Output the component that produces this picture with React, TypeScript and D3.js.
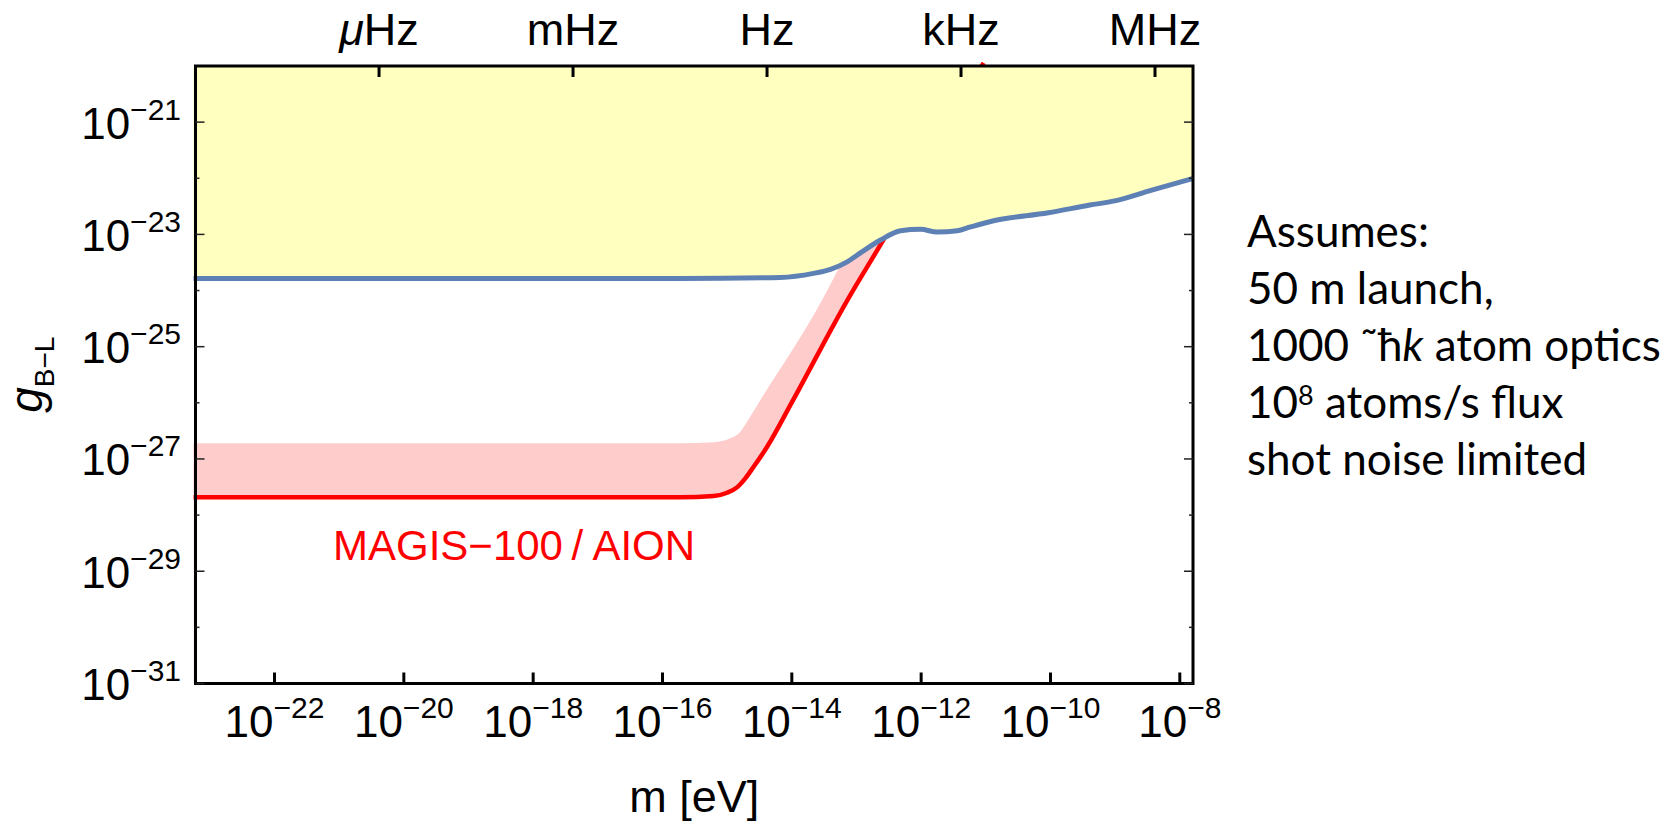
import React from "react";
import * as d3 from "d3";

const WIDTH = 1673;
const HEIGHT = 823;

// Axis ticks
const massTicks = [1e-22, 1e-20, 1e-18, 1e-16, 1e-14, 1e-12, 1e-10, 1e-8];
const couplingLabelled = [1e-21, 1e-23, 1e-25, 1e-27, 1e-29, 1e-31];
const couplingMinor = [1e-22, 1e-24, 1e-26, 1e-28, 1e-30];

// Top axis: Compton frequency f = m c^2 / h
const freqLabels = ["μHz", "mHz", "Hz", "kHz", "MHz"];
const freqValuesHz = [1e-6, 1e-3, 1, 1e3, 1e6];
const PLANCK_EV_S = 4.135667696e-15;

// Existing constraints (blue boundary, excluded region shaded above)
const boundMass = [
  5.6e-24, 1.89e-16, 6.67e-15, 2.16e-14, 3.96e-14, 7.18e-14, 1.28e-13, 2.36e-13,
  4.8e-13, 9.79e-13, 1.78e-12, 3.62e-12, 5.82e-12, 1.32e-11, 9.23e-11, 4.05e-10,
  9.86e-10, 3.69e-9, 1.62e-8,
];
const boundCoupling = [
  1.64e-24, 1.64e-24, 1.71e-24, 2.02e-24, 2.38e-24, 3.25e-24, 5.1e-24, 7.93e-24,
  1.16e-23, 1.23e-23, 1.1e-23, 1.16e-23, 1.36e-23, 1.75e-23, 2.43e-23, 3.33e-23,
  3.96e-23, 6.15e-23, 9.93e-23,
];

// MAGIS-100 / AION projected sensitivity (red)
const magisMass = [
  5.6e-24, 1.89e-16, 6.18e-16, 9.96e-16, 1.42e-15, 1.91e-15, 2.57e-15, 4.15e-15,
  1.01e-14, 7.1e-14, 2.69e-13, 9.25e-12,
];
const magisCoupling = [
  2.07e-28, 2.07e-28, 2.18e-28, 2.5e-28, 3.12e-28, 4.52e-28, 7.26e-28, 1.65e-27,
  1.04e-26, 6.5e-25, 8.49e-24, 1.14e-20,
];

// Upper edge of the projected sensitivity band (pink)
const bandMass = [
  5.6e-24, 1.89e-16, 6.18e-16, 1.12e-15, 1.6e-15, 2.03e-15, 3.27e-15, 2.94e-14,
  5.65e-14, 1.24e-13, 5.0e-13,
];
const bandCoupling = [
  1.9e-27, 1.9e-27, 1.98e-27, 2.33e-27, 3.05e-27, 4.6e-27, 1.12e-26, 6.76e-25,
  2.84e-24, 1.59e-23, 1.0e-21,
];

const assumptions = ["Assumes:", "50 m launch,", "shot noise limited"];

const X0 = 195.5;
const X1 = 1193;
const Y0 = 66;
const Y1 = 683.5;

const FONT = "'Liberation Sans', Arial, sans-serif";
const YELLOW = "#FFFFC0";
const BLUE = "#5E81B5";
const PINK = "#FFCCCC";
const RED = "#FF0000";

const zip = (xs: number[], ys: number[]) => xs.map((x, i) => [x, ys[i]] as [number, number]);

function expLabel(v: number) {
  const e = Math.round(Math.log10(v));
  return (e < 0 ? "\u2212" : "") + Math.abs(e);
}

export default function App() {
  const x = d3.scaleLog().domain([6e-24, 1.6e-8]).range([X0, X1]);
  const y = d3.scaleLog().domain([1e-31, 1e-20]).range([Y1, Y0]);

  const line = d3
    .line<[number, number]>()
    .x((d) => x(d[0]))
    .y((d) => y(d[1]))
    .curve(d3.curveMonotoneX);

  const areaAbove = d3
    .area<[number, number]>()
    .x((d) => x(d[0]))
    .y0(Y0)
    .y1((d) => y(d[1]))
    .curve(d3.curveMonotoneX);

  const areaBelow = d3
    .area<[number, number]>()
    .x((d) => x(d[0]))
    .y0(Y1)
    .y1((d) => y(d[1]))
    .curve(d3.curveMonotoneX);

  const bound = zip(boundMass, boundCoupling);
  const magis = zip(magisMass, magisCoupling);
  const band = zip(bandMass, bandCoupling);

  const freqMass = freqValuesHz.map((f) => f * PLANCK_EV_S);

  const textX = 1247;
  const textY0 = 246.5;
  const lineGap = 57;

  return (
    <svg
      width={WIDTH}
      height={HEIGHT}
      viewBox={`0 0 ${WIDTH} ${HEIGHT}`}
      style={{ position: "absolute", left: 0, top: 0, background: "#fff" }}
      fontFamily={FONT}
    >
      <defs>
        <clipPath id="plotArea">
          <rect x={X0 - 3} y={Y0} width={X1 - X0 + 3} height={Y1 - Y0} />
        </clipPath>
        <clipPath id="lineArea">
          <rect x={X0 - 3} y={Y0 - 4} width={X1 - X0 + 3} height={Y1 - Y0 + 4} />
        </clipPath>
      </defs>
      <rect x={0} y={0} width={WIDTH} height={HEIGHT} fill="#fff" />

      {/* projected sensitivity band: fill below its upper edge, then clear below the red curve */}
      <g clipPath="url(#plotArea)">
        <path d={areaBelow(band) || ""} fill={PINK} />
        <path d={areaBelow(magis) || ""} fill="#fff" />
      </g>
      <g clipPath="url(#lineArea)">
        <path d={line(magis) || ""} fill="none" stroke={RED} strokeWidth={4.5} />
      </g>

      {/* excluded region */}
      <g clipPath="url(#plotArea)">
        <path d={areaAbove(bound) || ""} fill={YELLOW} />
      </g>
      <g clipPath="url(#lineArea)">
        <path d={line(bound) || ""} fill="none" stroke={BLUE} strokeWidth={5} />
      </g>

      {/* frame */}
      <rect x={X0} y={Y0} width={X1 - X0} height={Y1 - Y0} fill="none" stroke="#000" strokeWidth={3} />

      {/* bottom ticks + labels */}
      {massTicks.map((m) => (
        <g key={"mt" + m}>
          <line x1={x(m)} x2={x(m)} y1={Y1} y2={Y1 - 11} stroke="#000" strokeWidth={3} />
          <text x={x(m)} y={737} textAnchor="middle" fontSize={44} fill="#000">
            10
            <tspan dy={-19} fontSize={30}>
              {expLabel(m)}
            </tspan>
          </text>
        </g>
      ))}

      {/* top frequency ticks + labels */}
      {freqMass.map((m, i) => (
        <g key={"ft" + i}>
          <line x1={x(m)} x2={x(m)} y1={Y0} y2={Y0 + 11} stroke="#000" strokeWidth={3} />
          <text x={x(m)} y={45} textAnchor="middle" fontSize={45} fill="#000">
            {freqLabels[i].startsWith("μ") ? (
              <>
                <tspan fontStyle="italic">μ</tspan>
                {freqLabels[i].slice(1)}
              </>
            ) : (
              freqLabels[i]
            )}
          </text>
        </g>
      ))}

      {/* left / right ticks */}
      {couplingLabelled.map((g) => (
        <g key={"gl" + g}>
          <line x1={X0} x2={X0 + 9} y1={y(g)} y2={y(g)} stroke="#222" strokeWidth={1.5} />
          <line x1={X1} x2={X1 - 9} y1={y(g)} y2={y(g)} stroke="#222" strokeWidth={1.5} />
          <text x={181} y={y(g) + 16.5} textAnchor="end" fontSize={44} fill="#000">
            10
            <tspan dy={-19} fontSize={30}>
              {expLabel(g)}
            </tspan>
          </text>
        </g>
      ))}
      {couplingMinor.map((g) => (
        <g key={"gm" + g}>
          <line x1={X0} x2={X0 + 4} y1={y(g)} y2={y(g)} stroke="#222" strokeWidth={1.5} />
          <line x1={X1} x2={X1 - 4} y1={y(g)} y2={y(g)} stroke="#222" strokeWidth={1.5} />
        </g>
      ))}

      {/* axis titles */}
      <text x={(X0 + X1) / 2} y={812} textAnchor="middle" fontSize={45} fill="#000">
        m [eV]
      </text>
      <text transform={`translate(42, ${(Y0 + Y1) / 2}) rotate(-90)`} textAnchor="middle" fill="#000">
        <tspan fontSize={46} fontStyle="italic">
          g
        </tspan>
        <tspan fontSize={28} dy={12}>
          B−L
        </tspan>
      </text>

      {/* curve label */}
      <text x={333} y={560} fontSize={42} fill={RED}>
        MAGIS−100{"\u2009"}/ AION
      </text>

      {/* assumptions */}
      <g fontFamily="Lato, 'Open Sans', sans-serif" fontSize={44} fill="#000">
        <text x={textX} y={textY0}>{assumptions[0]}</text>
        <text x={textX} y={textY0 + lineGap}>{assumptions[1]}</text>
        <text x={textX} y={textY0 + 2 * lineGap}>
          1000 {"\u02DC"}ħ<tspan fontStyle="italic">k</tspan> atom optics
        </text>
        <text x={textX} y={textY0 + 3 * lineGap}>
          10<tspan fontSize={27} dy={-13}>8</tspan>
          <tspan dy={13}> atoms/s flux</tspan>
        </text>
        <text x={textX} y={textY0 + 4 * lineGap}>{assumptions[2]}</text>
      </g>
    </svg>
  );
}
